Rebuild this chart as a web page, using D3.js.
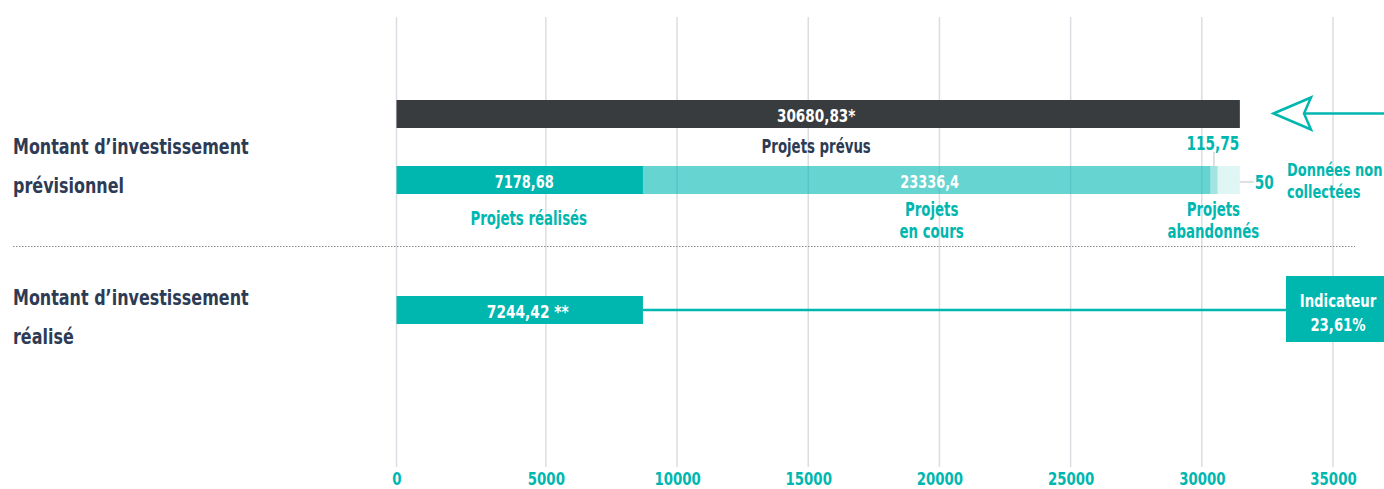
<!DOCTYPE html>
<html lang="fr">
<head>
<meta charset="utf-8">
<script src="https://cdn.jsdelivr.net/npm/d3@7"></script>
<style>
  html, body { margin: 0; padding: 0; background: #ffffff; }
  svg { display: block; }
  text { font-family: "Liberation Sans Narrow", "DejaVu Sans Condensed", "Roboto", sans-serif; font-weight: bold; }
</style>
</head>
<body>
<svg id="chart" width="1384" height="489"></svg>
<script>
// ---------------- DATA ----------------
const rowLabels = [
  ["Montant d\u2019investissement", "prévisionnel"],
  ["Montant d\u2019investissement", "réalisé"]
];
const axisTicks = [0, 5000, 10000, 15000, 20000, 25000, 30000, 35000];

// planned projects (dark bar)
const plannedLabel = "30680,83*";
const plannedName = "Projets prévus";
const plannedValue = 30680.83;
const plannedDrawnEnd = 31450;            // bar end as read on the axis

// breakdown of the planned amount (stacked bar)
const segmentNames = ["Projets réalisés", "Projets en cours", "Projets abandonnés", "Données non collectées"];
const segmentValues = [7178.68, 23336.4, 115.75, 50];
const segmentLabels = ["7178,68", "23336,4", "115,75", "50"];
const segmentDrawnEnds = [8700, 30325, 30600, 31450];   // cumulative ends as read on the axis

// realised amount
const realisedLabel = "7244,42 **";
const realisedValue = 7244.42;
const realisedDrawnEnd = 8700;           // bar end as read on the axis
const indicatorLines = ["Indicateur", "23,61%"];

// ---------------- STYLE ----------------
const TEAL = "#00b7b0";
const DARK = "#393c3e";
const NAVY = "#2d3b55";
const GRID = "#dcdde2";
const segmentOpacity = [1, 0.6, 0.37, 0.12];
const SX = 0.8;        // horizontal condensing of the narrow display font

// ---------------- LAYOUT ----------------
const svg = d3.select("#chart");
const W = 1384, H = 489;
const plotLeft = 396.5, plotRight = 1333;
const gridTop = 17, gridBottom = 467;

// axis: the picture places 0 a little further left than the regular 5000 step
const x = d3.scaleLinear()
  .domain([0, 5000, 35000])
  .range([plotLeft, plotLeft + (plotRight - plotLeft) * 0.1595, plotRight]);

const rowY = { planned: 100, stack: 166, realised: 296 };
const barH = 28;

// helper: condensed text block (one or more lines)
function addText(parent, px, py, lines, o) {
  const t = parent.append("text")
    .attr("transform", `translate(${px},${py}) scale(${o.sx || SX},1)`)
    .attr("text-anchor", o.anchor || "start")
    .attr("fill", o.fill)
    .style("font-size", o.size + "px");
  t.selectAll("tspan").data(Array.isArray(lines) ? lines : [lines]).join("tspan")
    .attr("x", 0).attr("dy", (d, j) => j === 0 ? 0 : (o.lineH || 22)).text(d => d);
  return t;
}

// gridlines
svg.append("g").selectAll("line").data(axisTicks).join("line")
  .attr("x1", d => x(d)).attr("x2", d => x(d))
  .attr("y1", gridTop).attr("y2", gridBottom)
  .attr("stroke", GRID).attr("stroke-width", 1.5);

// axis labels
const axis = d3.axisBottom(x).tickValues(axisTicks).tickSize(0).tickPadding(0).tickFormat(d3.format("d"));
const gAxis = svg.append("g").attr("transform", `translate(0,${gridBottom})`).call(axis);
gAxis.select(".domain").remove();
gAxis.attr("font-family", null).attr("font-size", null);
gAxis.selectAll("text")
  .attr("y", 17.5).attr("dy", null)
  .attr("transform", `scale(${SX},1)`)
  .attr("fill", TEAL).style("font-size", "18.5px").style("font-weight", "bold");

// row labels
rowLabels.forEach((lines, i) => {
  addText(svg, 13, i === 0 ? 154 : 305, lines, { fill: NAVY, size: 21, lineH: 39, sx: 0.845 });
});

// separator
svg.append("line").attr("x1", 13).attr("x2", 1355).attr("y1", 246.5).attr("y2", 246.5)
  .attr("stroke", "#8a8a8a").attr("stroke-width", 1).attr("stroke-dasharray", "1.5,1.5");

// planned dark bar
svg.append("rect")
  .attr("x", x(0)).attr("y", rowY.planned)
  .attr("width", x(plannedDrawnEnd) - x(0)).attr("height", barH)
  .attr("fill", DARK);
addText(svg, (x(0) + x(plannedDrawnEnd)) / 2 - 2, rowY.planned + 21.5, plannedLabel,
  { anchor: "middle", fill: "#fff", size: 18, sx: 0.84 });
addText(svg, (x(0) + x(plannedDrawnEnd)) / 2 - 2, 152.5, plannedName,
  { anchor: "middle", fill: NAVY, size: 19, sx: 0.78 });

// stacked bar
const segs = segmentValues.map((v, i) => ({
  name: segmentNames[i], value: v, label: segmentLabels[i],
  x0: i === 0 ? 0 : segmentDrawnEnds[i - 1], x1: segmentDrawnEnds[i], op: segmentOpacity[i]
}));
svg.append("g").selectAll("rect").data(segs).join("rect")
  .attr("x", d => x(d.x0)).attr("y", rowY.stack)
  .attr("width", d => x(d.x1) - x(d.x0)).attr("height", barH)
  .attr("fill", TEAL).attr("fill-opacity", d => d.op);

// in-bar labels for the two big segments
segs.slice(0, 2).forEach((d, i) => {
  addText(svg, (x(d.x0) + x(d.x1)) / 2 + (i === 0 ? 4.5 : 3), rowY.stack + 21.5, d.label,
    { anchor: "middle", fill: "#fff", size: 18, sx: 0.8 });
});

// names under segments
const nameLines = [["Projets réalisés"], ["Projets", "en cours"], ["Projets", "abandonnés"]];
segs.slice(0, 3).forEach((d, i) => {
  const cx = i === 2 ? x(d.x0) + 3 : (x(d.x0) + x(d.x1)) / 2 + (i === 1 ? 5 : 9);
  addText(svg, cx, i === 0 ? 225 : 216, nameLines[i],
    { anchor: "middle", fill: TEAL, size: 19, lineH: 22, sx: 0.78 });
});

// 115,75 leader + label
const s3 = segs[2];
const s3x = (x(s3.x0) + x(s3.x1)) / 2;
svg.append("line").attr("x1", s3x).attr("x2", s3x).attr("y1", 152).attr("y2", rowY.stack)
  .attr("stroke", "#c8cbd0").attr("stroke-width", 1.2);
addText(svg, s3x - 1, 150, s3.label, { anchor: "middle", fill: TEAL, size: 19, sx: 0.8 });

// 50 leader + label
const s4 = segs[3];
svg.append("line").attr("x1", x(s4.x1)).attr("x2", x(s4.x1) + 14).attr("y1", 182).attr("y2", 182)
  .attr("stroke", "#c8cbd0").attr("stroke-width", 1.2);
addText(svg, x(s4.x1) + 15, 188.5, s4.label, { fill: TEAL, size: 19, sx: 0.8 });

// "Données non collectées"
addText(svg, 1287, 176, ["Données non", "collectées"], { fill: TEAL, size: 18.5, lineH: 22, sx: 0.78 });

// outline arrow pointing at the planned bar
const ay = rowY.planned + barH / 2 - 0.5;
svg.append("line").attr("x1", 1304).attr("x2", W).attr("y1", ay).attr("y2", ay)
  .attr("stroke", TEAL).attr("stroke-width", 2.5);
svg.append("path")
  .attr("d", `M1273.5,${ay} L1311,${ay - 16} L1304,${ay} L1311,${ay + 16} Z`)
  .attr("fill", "#fff").attr("stroke", TEAL).attr("stroke-width", 2.5).attr("stroke-linejoin", "miter");

// realised bar
svg.append("rect")
  .attr("x", x(0)).attr("y", rowY.realised)
  .attr("width", x(realisedDrawnEnd) - x(0)).attr("height", barH)
  .attr("fill", TEAL);
addText(svg, (x(0) + x(realisedDrawnEnd)) / 2 + 8, rowY.realised + 21.5, realisedLabel,
  { anchor: "middle", fill: "#fff", size: 18, sx: 0.85 });

// indicator connector + box
const boxX = 1286, boxY = 276, boxW = W - 1286, boxH = 66;
svg.append("line").attr("x1", x(realisedDrawnEnd)).attr("x2", boxX)
  .attr("y1", rowY.realised + barH / 2).attr("y2", rowY.realised + barH / 2)
  .attr("stroke", TEAL).attr("stroke-width", 2.5);
svg.append("rect").attr("x", boxX).attr("y", boxY).attr("width", boxW).attr("height", boxH)
  .attr("fill", TEAL);
addText(svg, 1338, 307, indicatorLines, { anchor: "middle", fill: "#fff", size: 18, lineH: 24, sx: 0.82 });
</script>
</body>
</html>
